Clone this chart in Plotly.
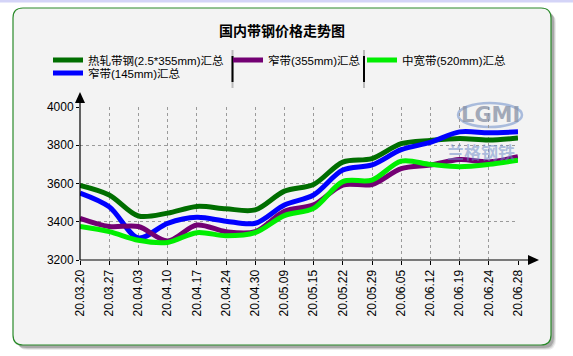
import plotly.graph_objects as go

dates = ["20.03.20", "20.03.27", "20.04.03", "20.04.10", "20.04.17", "20.04.24", "20.04.30",
         "20.05.09", "20.05.15", "20.05.22", "20.05.29", "20.06.05", "20.06.12", "20.06.19",
         "20.06.24", "20.06.28"]
hot_rolled = [3590, 3540, 3430, 3445, 3480, 3468, 3462, 3560, 3595, 3712, 3730, 3808, 3825, 3835, 3827, 3838]
narrow_145 = [3550, 3478, 3315, 3392, 3423, 3403, 3392, 3488, 3540, 3670, 3697, 3777, 3815, 3870, 3865, 3870]
narrow_355 = [3418, 3375, 3375, 3300, 3383, 3348, 3348, 3455, 3488, 3592, 3595, 3678, 3697, 3725, 3713, 3740]
medium_520 = [3375, 3348, 3303, 3292, 3343, 3327, 3343, 3432, 3470, 3610, 3618, 3717, 3700, 3688, 3700, 3722]

names = ["热轧带钢(2.5*355mm)汇总", "窄带(145mm)汇总", "窄带(355mm)汇总", "中宽带(520mm)汇总"]
y_ticks = [3200, 3400, 3600, 3800, 4000]

W, H = 573, 356
L, R, T, B = 80, 55, 107, 96
PW, PH = W - L - R, H - T - B

def px(x):
    return (x - L) / PW

def py(y):
    return (H - B - y) / PH

colors = ["#006e00", "#0000ff", "#730073", "#00ee00"]
series = [hot_rolled, narrow_145, narrow_355, medium_520]
legends = ["legend", "legend4", "legend2", "legend3"]

FONT = "Liberation Sans, Arial, Noto Sans CJK SC, sans-serif"

fig = go.Figure()
for nm, vals, c, lg in zip(names, series, colors, legends):
    fig.add_trace(go.Scatter(
        x=list(range(len(dates))), y=vals, name=nm, mode="lines",
        line=dict(color=c, width=5, shape="spline", smoothing=0.9),
        legend=lg, hoverinfo="x+y"))

def rrect(x0, y0, x1, y1, r):
    return (f"M{px(x0+r)},{py(y0)} L{px(x1-r)},{py(y0)} Q{px(x1)},{py(y0)} {px(x1)},{py(y0+r)} "
            f"L{px(x1)},{py(y1-r)} Q{px(x1)},{py(y1)} {px(x1-r)},{py(y1)} "
            f"L{px(x0+r)},{py(y1)} Q{px(x0)},{py(y1)} {px(x0)},{py(y1-r)} "
            f"L{px(x0)},{py(y0+r)} Q{px(x0)},{py(y0)} {px(x0+r)},{py(y0)} Z")

shapes = []
shapes.append(dict(type="rect", xref="paper", yref="paper", x0=px(0), x1=px(W), y0=py(0), y1=py(2.5),
                   fillcolor="#d4d4f7", line=dict(width=0), layer="below"))
for off, op in [(5, 0.08), (4, 0.12), (3, 0.18)]:
    shapes.append(dict(type="path", xref="paper", yref="paper", path=rrect(13 + off, 8 + off, 551 + off, 345 + off, 10),
                       fillcolor=f"rgba(0,0,0,{op})", line=dict(width=0), layer="below"))
shapes.append(dict(type="path", xref="paper", yref="paper", path=rrect(13, 8, 551, 345, 10),
                   fillcolor="#f3f3f3", line=dict(color="#2a8a2a", width=1.2), layer="below"))
for sx in [232.5, 364]:
    shapes.append(dict(type="line", xref="paper", yref="paper", x0=px(sx), x1=px(sx), y0=py(50), y1=py(88),
                       line=dict(color="#bbbbbb", width=2), layer="above"))
    shapes.append(dict(type="line", xref="paper", yref="paper", x0=px(sx), x1=px(sx), y0=py(56), y1=py(82),
                       line=dict(color="#000000", width=2), layer="above"))
shapes.append(dict(type="line", xref="paper", yref="paper", x0=px(80), x1=px(80), y0=py(260), y1=py(100),
                   line=dict(color="black", width=1.2), layer="above"))
shapes.append(dict(type="line", xref="paper", yref="paper", x0=px(80), x1=px(530), y0=py(260), y1=py(260),
                   line=dict(color="black", width=1.2), layer="above"))
shapes.append(dict(type="path", xref="paper", yref="paper",
                   path=f"M{px(75)},{py(103)} L{px(85)},{py(103)} L{px(80)},{py(92)} Z",
                   fillcolor="black", line=dict(width=0), layer="above"))
shapes.append(dict(type="path", xref="paper", yref="paper",
                   path=f"M{px(528)},{py(255)} L{px(528)},{py(265)} L{px(539)},{py(260)} Z",
                   fillcolor="black", line=dict(width=0), layer="above"))
shapes.append(dict(type="circle", xref="paper", yref="paper", x0=px(458), x1=px(522), y0=py(103), y1=py(127),
                   line=dict(color="rgba(120,150,205,0.6)", width=2.5), layer="below"))

annotations = [
    dict(text="<b>LGMI</b>", xref="paper", yref="paper", x=px(490), y=py(115), showarrow=False,
         xanchor="center", yanchor="middle",
         font=dict(family="DejaVu Sans", size=21, color="rgba(135,145,165,0.75)")),
    dict(text="<b>兰格钢铁</b>", xref="paper", yref="paper", x=px(481), y=py(151), showarrow=False,
         xanchor="center", yanchor="middle",
         font=dict(family="Noto Sans CJK SC", size=17, color="rgba(110,140,200,0.55)")),
]

def leg(xp, yp):
    return dict(x=px(xp), y=py(yp), xref="paper", yref="paper", xanchor="left", yanchor="middle",
                orientation="v", bgcolor="rgba(0,0,0,0)", borderwidth=0,
                font=dict(family=FONT, size=11.5, color="black"), itemwidth=30)

fig.update_layout(
    width=W, height=H,
    margin=dict(l=L, r=R, t=T, b=B, pad=0, autoexpand=False),
    paper_bgcolor="white",
    plot_bgcolor="rgba(0,0,0,0)",
    title=dict(text="<b>国内带钢价格走势图</b>", x=282 / W, xanchor="center", y=1 - 31 / H, yanchor="middle",
               xref="container", yref="container",
               font=dict(family="Noto Sans CJK SC", size=14, color="black")),
    shapes=shapes,
    annotations=annotations,
    showlegend=True,
    legend=leg(48, 60),
    legend4=leg(48, 73),
    legend2=leg(228, 60),
    legend3=leg(362, 60),
    xaxis=dict(
        range=[0, len(dates) - 1], tickmode="array", tickvals=list(range(len(dates))), ticktext=dates,
        tickangle=-90, showline=False, zeroline=False,
        ticks="outside", ticklen=4, tickcolor="black",
        showgrid=True, gridcolor="#9a9a9a", griddash="dot", gridwidth=1,
        tickfont=dict(family=FONT, size=12, color="black"),
    ),
    yaxis=dict(
        range=[3200, 4000], tickmode="array", tickvals=y_ticks, ticktext=[str(v) for v in y_ticks],
        showline=False, zeroline=False, ticks="outside", ticklen=3, tickcolor="black",
        showgrid=True, gridcolor="#9a9a9a", griddash="dot", gridwidth=1,
        tickfont=dict(family=FONT, size=12, color="black"), ticklabelstandoff=0,
    ),
)

fig.write_html("out.html", config={"displayModeBar": False},
               post_script="document.body.style.margin='0';document.body.style.overflow='hidden';")
